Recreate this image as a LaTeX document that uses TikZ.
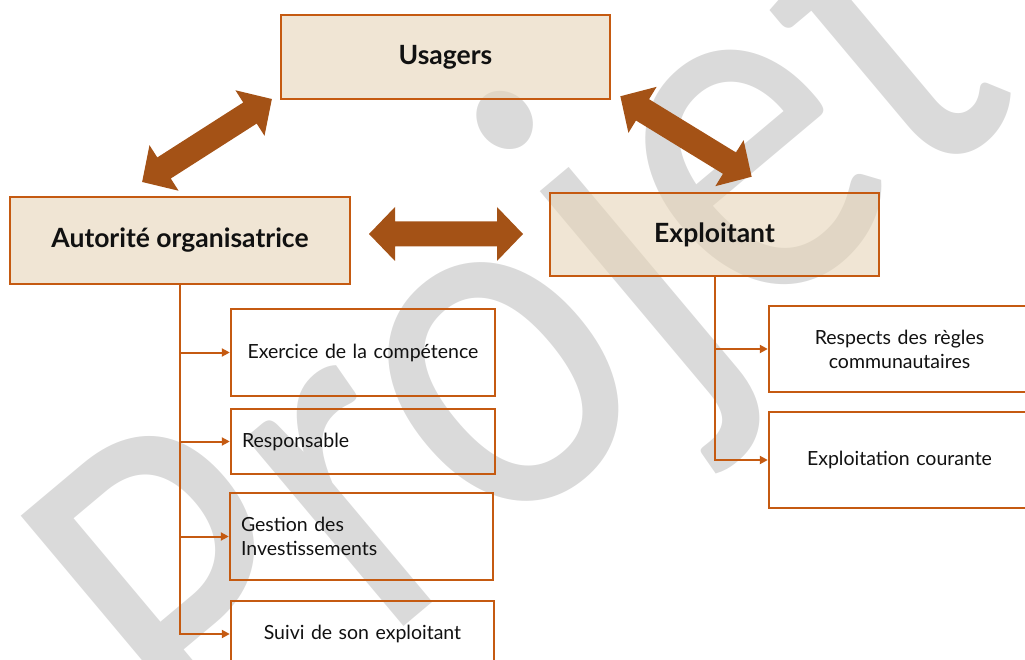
\documentclass[tikz,border=0pt]{standalone}
\usepackage{fontspec}
\setmainfont{Lato}
\newfontfamily\wmfont{Carlito}
\usetikzlibrary{arrows.meta,calc}
\definecolor{boxfill}{RGB}{230,212,183}
\definecolor{rust}{RGB}{197,90,17}
\definecolor{arrowbrown}{RGB}{164,82,22}
\definecolor{ink}{RGB}{17,17,17}
\definecolor{wmgray}{RGB}{218,218,218}
\tikzset{
  hdr/.style={draw=rust, line width=2.4pt, fill=boxfill, fill opacity=0.6, text opacity=1,
    inner sep=0pt, font=\bfseries\fontsize{26.5}{30}\selectfont, text=ink},
  leaf/.style={draw=rust, line width=2.4pt, inner ysep=0pt, inner xsep=11pt,
    font=\fontsize{19.5}{24}\selectfont, text=ink},
  conn/.style={draw=rust, line width=2pt, -{Triangle[length=8pt,width=8pt]}},
  wm/.style={font=\wmfont\fontsize{515}{560}\selectfont, text=wmgray, inner sep=0pt},
  pics/dblarrow/.style={code={
    \fill[arrowbrown] (-77pt,0pt) -- (-51pt,27pt) -- (-51pt,12.5pt) -- (51pt,12.5pt)
      -- (51pt,27pt) -- (77pt,0pt) -- (51pt,-27pt) -- (51pt,-12.5pt)
      -- (-51pt,-12.5pt) -- (-51pt,-27pt) -- cycle;}},
}
\begin{document}
\begin{tikzpicture}[x=1pt,y=-1pt]
\useasboundingbox (0,0) rectangle (1025,660);

% draft watermark, behind everything
\node[wm, rotate=40, xscale=0.85, anchor=base] (wmark) at (619,446) {Projet};

% main actors
\node[hdr, minimum width=329pt, minimum height=84pt] (usagers) at (445.5,57) {Usagers};
\node[hdr, minimum width=340pt, minimum height=87pt] (auto) at (180,240.5) {Autorité organisatrice};
\node[hdr, minimum width=329pt, minimum height=83pt] (expl) at (714.5,234.5) {Exploitant};

% two-way relations between the actors
\coordinate (linkAU) at (207,140.5);
\coordinate (linkUE) at (686,136.5);
\coordinate (linkAE) at (446,234);
\pic[rotate=32.6] at (linkAU) {dblarrow};
\pic[rotate=-31.5] at (linkUE) {dblarrow};
\pic at (linkAE) {dblarrow};

% missions of the organising authority
\node[leaf, text width=242pt, minimum height=87pt, align=center] (comp) at (363,352.5) {Exercice de la compétence};
\node[leaf, text width=242pt, minimum height=65pt, align=left] (resp) at (363,441.5) {Responsable};
\node[leaf, text width=241pt, minimum height=87pt, align=left] (invest) at (361.5,536.5) {Gestion des\\Investissements};
\node[leaf, text width=241pt, minimum height=66pt, align=center] (suivi) at (362.5,634) {Suivi de son exploitant};

% missions of the operator
\node[leaf, text width=239pt, minimum height=86pt, align=center] (regles) at (899.5,349) {Respects des règles\\communautaires};
\node[leaf, text width=239pt, minimum height=96pt, align=center] (courante) at (899.5,460) {Exploitation courante};

% tree connectors
\draw[conn] (auto.south) |- (comp.west);
\draw[conn] (auto.south) |- (resp.west);
\draw[conn] (auto.south) |- (invest.west);
\draw[conn] (auto.south) |- (suivi.west);
\draw[conn] (expl.south) |- (regles.west);
\draw[conn] (expl.south) |- (courante.west);
\end{tikzpicture}
\end{document}
